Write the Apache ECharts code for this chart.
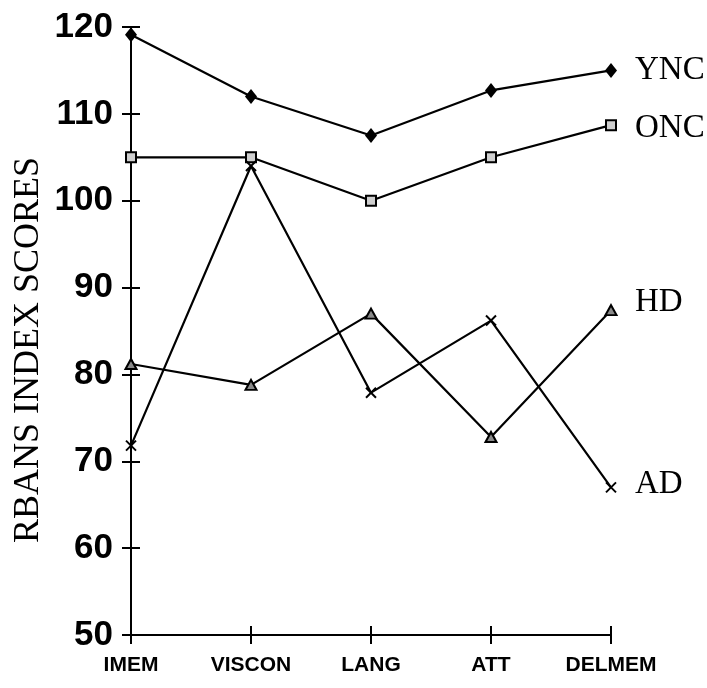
<!DOCTYPE html>
<html><head><meta charset="utf-8">
<script src="https://cdn.jsdelivr.net/npm/echarts@6/dist/echarts.min.js"></script>
<style>html,body{margin:0;padding:0;background:#fff}#c{width:707px;height:688px}</style>
</head><body><div id="c"></div>
<script>
const categories = ['IMEM', 'VISCON', 'LANG', 'ATT', 'DELMEM'];
const ync = [119.1, 112.0, 107.5, 112.7, 115.0];
const onc = [105.0, 105.0, 100.0, 105.0, 108.7];
const hd  = [81.2, 78.8, 87.0, 72.8, 87.4];
const ad  = [71.8, 104.0, 77.9, 86.2, 67.0];
const yTicks = [50, 60, 70, 80, 90, 100, 110, 120];
const yTitle = 'RBANS INDEX SCORES';

const serif = "'Liberation Serif', 'Times New Roman', serif";
const sans = "'Liberation Sans', Arial, sans-serif";
const chart = echarts.init(document.getElementById('c'), null, {renderer: 'canvas'});

function endLbl(dy) {
  return {show: true, formatter: '{a}', distance: 24, offset: [0, dy], color: '#000', fontFamily: serif, fontSize: 33};
}
const lineStyle = {color: '#000', width: 2.2};
const yMin = yTicks[0], yMax = yTicks[yTicks.length - 1];

chart.setOption({
  animation: false,
  backgroundColor: '#fff',
  grid: {left: 131, right: 96, top: 27, bottom: 53, containLabel: false},
  xAxis: [{
    type: 'category', data: categories, boundaryGap: false,
    axisLine: {lineStyle: {color: '#000', width: 2}},
    axisTick: {show: true, inside: false, length: 9, interval: 0, lineStyle: {color: '#000', width: 2}},
    axisLabel: {color: '#000', fontFamily: sans, fontWeight: 'bold', fontSize: 21, margin: 20, interval: 0},
    splitLine: {show: false}
  }, {
    type: 'category', data: categories, boundaryGap: false, position: 'bottom', offset: 0,
    axisLine: {show: true, lineStyle: {color: '#000', width: 2}},
    axisTick: {show: true, inside: true, length: 9, interval: 0, lineStyle: {color: '#000', width: 2}},
    axisLabel: {show: false}, splitLine: {show: false}
  }],
  yAxis: [{
    type: 'value', min: yMin, max: yMax, interval: 10,
    axisLine: {show: true, lineStyle: {color: '#000', width: 2}},
    axisTick: {show: true, inside: false, length: 9, lineStyle: {color: '#000', width: 2}},
    axisLabel: {color: '#000', fontFamily: sans, fontWeight: 'bold', fontSize: 35, margin: 18},
    splitLine: {show: false}
  }, {
    type: 'value', min: yMin, max: yMax, interval: 10, position: 'left', offset: 0,
    axisLine: {show: false},
    axisTick: {show: true, inside: true, length: 9, lineStyle: {color: '#000', width: 2}},
    axisLabel: {show: false}, splitLine: {show: false}
  }],
  graphic: [{
    type: 'text', x: 29, y: 350, rotation: Math.PI / 2,
    style: {text: yTitle, fill: '#000', font: '36px ' + serif, textAlign: 'center', textVerticalAlign: 'middle'}
  }],
  series: [
    {name: 'YNC', type: 'line', data: ync, symbol: 'diamond', symbolSize: [12, 15],
     itemStyle: {color: '#000'}, lineStyle, endLabel: endLbl(0)},
    {name: 'ONC', type: 'line', data: onc, symbol: 'rect', symbolSize: 10,
     itemStyle: {color: '#cfcfcf', borderColor: '#000', borderWidth: 2}, lineStyle, endLabel: endLbl(3)},
    {name: 'HD', type: 'line', data: hd, symbol: 'triangle', symbolSize: [11, 10],
     itemStyle: {color: '#8a8a8a', borderColor: '#000', borderWidth: 2}, lineStyle, endLabel: endLbl(-8)},
    {name: 'AD', type: 'line', data: ad, symbol: 'path://M0,0L10,10M10,0L0,10', symbolSize: 10,
     itemStyle: {color: 'rgba(0,0,0,0)', borderColor: '#000', borderWidth: 2}, lineStyle, endLabel: endLbl(-3)}
  ]
});
</script></body></html>
